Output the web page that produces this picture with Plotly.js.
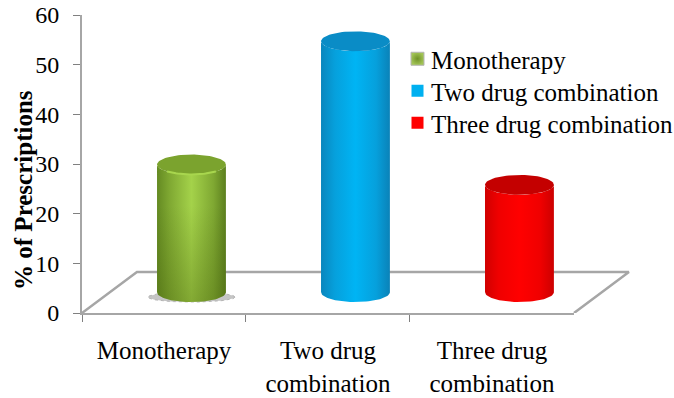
<!DOCTYPE html>
<html>
<head>
<meta charset="utf-8">
<script src="https://cdn.plot.ly/plotly-3.0.1.min.js"></script>
<style>html,body{margin:0;padding:0;background:#fff}</style>
</head>
<body>
<div id="chart" style="width:674px;height:398px"></div>
<script>
// Share of prescriptions by regimen
const categories = ["Monotherapy", "Two drug<br>combination", "Three drug<br>combination"];
const seriesNames = ["Monotherapy", "Two drug combination", "Three drug combination"];
const percentages = [25.7, 50.5, 21.6];
const bodyScales = [
  [[0, "#648a22"], [0.18, "#7fa832"], [0.5, "#a4d24a"], [0.82, "#7fa832"], [1, "#5c7f1e"]],
  [[0, "#0a86bd"], [0.2, "#06a0dc"], [0.5, "#00b4f4"], [0.8, "#06a0dc"], [1, "#0a82b8"]],
  [[0, "#d00000"], [0.2, "#f00000"], [0.5, "#ff0000"], [0.8, "#f00000"], [1, "#cc0000"]]
];
const capColors = ["#7ba32e", "#0a8cc6", "#c40000"];
const swatchColors = ["#a2c455", "#00b0f0", "#ff0000"];
const yTicks = [0, 10, 20, 30, 40, 50, 60];

// Oblique floor and cylinder proportions, in axis units
const depthX = 0.335, depthY = 8.25;
const radiusX = 0.21, radiusY = 2.0;
const axisGrey = "#a6a6a6";
const serif = "'Liberation Serif', 'Times New Roman', serif";
// The numeric axis runs past the last category so the floor can recede to the right
const wideEnd = 2.866;
const categorySpan = 3 / (wideEnd + 0.5);

function ellipsePath(cx, cy, from, to, n, rx = radiusX, ry = radiusY) {
  const xs = [], ys = [];
  for (let i = 0; i <= n; i++) {
    const t = from + (to - from) * i / n;
    xs.push(cx + rx * Math.cos(t));
    ys.push(cy + ry * Math.sin(t));
  }
  return [xs, ys];
}

const traces = [];

// Category axis carrier; the visible cylinders sit on the wider numeric axis
traces.push({
  type: "bar", x: categories, y: percentages, marker: { opacity: 0 },
  showlegend: false, hoverinfo: "skip"
});

// Floor: back edge and the two receding sides
traces.push({
  x: [-0.5, -0.5 + depthX, 2.5 + depthX, 2.5],
  y: [0, depthY, depthY, 0], xaxis: "x2",
  mode: "lines", showlegend: false, hoverinfo: "skip",
  line: { color: axisGrey, width: 2.5 }
});

percentages.forEach((v, i) => {
  const cx = i + depthX / 2, base = depthY / 2 + 0.08, top = base + v;

  // Soft contact shadow under the green cylinder
  if (i === 0) {
    const shadow = ellipsePath(cx, base - 1.0, 0, 2 * Math.PI, 60, radiusX + 0.055, 1.0);
    traces.push({
      x: shadow[0], y: shadow[1], xaxis: "x2", mode: "lines", fill: "toself",
      fillcolor: "rgba(150,150,150,0.55)", line: { width: 1, color: "#b5b5b5", dash: "dot" },
      showlegend: false, hoverinfo: "skip"
    });
  }

  // Body: front arc of the base, then the front arc of the top coming back
  const low = ellipsePath(cx, base, Math.PI, 2 * Math.PI, 40);
  const high = ellipsePath(cx, top, 2 * Math.PI, Math.PI, 40);
  const bodyX = low[0].concat(high[0]), bodyY = low[1].concat(high[1]);
  traces.push({
    x: bodyX, y: bodyY, xaxis: "x2",
    mode: "lines", fill: "toself", line: { width: 0 }, showlegend: false, hoverinfo: "skip",
    fillgradient: { type: "horizontal", colorscale: bodyScales[i] }
  });

  if (i === 0) {
    // Green body darkens toward its base
    traces.push({
      x: bodyX, y: bodyY, xaxis: "x2",
      mode: "lines", fill: "toself", line: { width: 0 }, showlegend: false, hoverinfo: "skip",
      fillgradient: {
        type: "vertical",
        colorscale: [[0, "rgba(70,95,10,0.35)"], [0.7, "rgba(70,95,10,0)"], [1, "rgba(70,95,10,0)"]]
      }
    });
  }

  // Cap
  const cap = ellipsePath(cx, top, 0, 2 * Math.PI, 80);
  traces.push({
    x: cap[0], y: cap[1], xaxis: "x2", mode: "lines", fill: "toself", fillcolor: capColors[i],
    line: { width: 0 }, showlegend: false, hoverinfo: "skip"
  });

  if (i === 0) {
    // Light rim along the front of the cap
    const rim = ellipsePath(cx, top, 1.75 * Math.PI, 1.25 * Math.PI, 30);
    traces.push({
      x: rim[0], y: rim[1], xaxis: "x2", mode: "lines",
      line: { width: 2, color: "#a8d64e" }, showlegend: false, hoverinfo: "skip"
    });
  }
});

// Legend keys
seriesNames.forEach((name, i) => {
  traces.push({
    x: [null], y: [null], xaxis: "x2", name: name, mode: "markers", hoverinfo: "skip",
    marker: i === 0
      ? { symbol: "square", size: 13, color: swatchColors[i], gradient: { type: "radial", color: "#6f9128" }, line: { width: 1, color: "#b5b5b5" } }
      : { symbol: "square", size: 12, color: swatchColors[i] }
  });
});

const layout = {
  width: 674, height: 398,
  margin: { l: 82, r: 40, t: 15, b: 85, autoexpand: false },
  paper_bgcolor: "#fff", plot_bgcolor: "rgba(0,0,0,0)",
  font: { family: serif, color: "#000" },
  showlegend: true,
  legend: {
    xref: "container", yref: "container", x: 397.5 / 674, y: 1 - 36 / 398, yanchor: "top", xanchor: "left",
    font: { family: serif, size: 25, color: "#000" },
    bgcolor: "rgba(0,0,0,0)", itemwidth: 30
  },
  xaxis: {
    domain: [0, categorySpan],
    type: "category", categoryorder: "array", categoryarray: categories,
    range: [-0.5, 2.5], tickson: "boundaries", ticks: "outside", ticklen: 7, ticklabelstandoff: 14,
    tickcolor: "#808080", tickwidth: 1, showline: true, linecolor: axisGrey, linewidth: 2,
    showgrid: false, zeroline: false, tickfont: { family: serif, size: 25, color: "#000" },
    tickangle: 0, fixedrange: true
  },
  xaxis2: { domain: [0, 1], anchor: "y", range: [-0.5, wideEnd], visible: false, fixedrange: true },
  yaxis: {
    range: [0, 60], tickvals: yTicks, ticks: "outside", ticklen: 7, ticklabelstandoff: 9,
    tickcolor: "#808080", tickwidth: 1, showline: true, linecolor: axisGrey, linewidth: 2,
    showgrid: false, zeroline: false, tickfont: { family: serif, size: 24, color: "#000" },
    fixedrange: true
  },
  annotations: [{
    text: "<b>% of Prescriptions</b>", textangle: -90, showarrow: false,
    xref: "paper", yref: "paper", x: -0.105, y: 0.413, xanchor: "center", yanchor: "middle",
    font: { family: serif, size: 25, color: "#000" }
  }]
};

Plotly.newPlot("chart", traces, layout, { displayModeBar: false, staticPlot: true }).then(() => {
  // Tighten the legend: keys closer to their labels, rows on a 32px step
  document.querySelectorAll("#chart .legendtext").forEach(t => {
    t.setAttribute("x", parseFloat(t.getAttribute("x")) - 6.5);
  });
  let firstY = null;
  document.querySelectorAll("#chart .legend .traces").forEach((row, i) => {
    const m = /translate\(([-\d.]+),\s*([-\d.]+)\)/.exec(row.getAttribute("transform"));
    if (firstY === null) firstY = parseFloat(m[2]);
    row.setAttribute("transform", `translate(${m[1]},${firstY + i * 32})`);
  });
});
</script>
</body>
</html>
